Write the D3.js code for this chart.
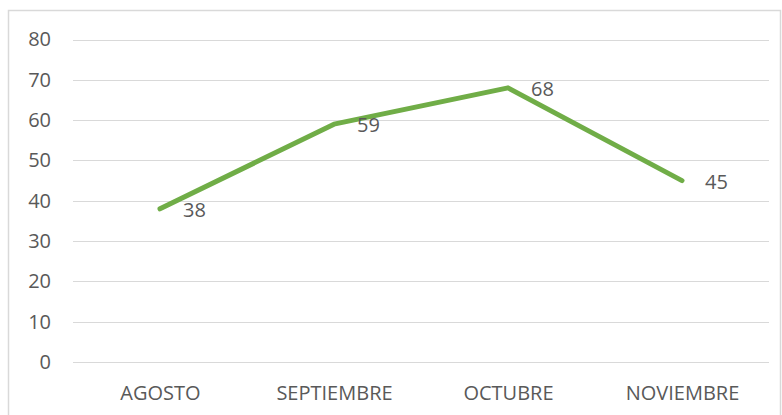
<!DOCTYPE html>
<html lang="es">
<head>
  <meta charset="utf-8">
  <title>Linea</title>
  <style>
    body { margin: 0; background: #fff; }
    text { font-family: "Open Sans", sans-serif; fill: #595959; }
  </style>
</head>
<body>
  <script src="https://cdn.jsdelivr.net/npm/d3@7"></script>
  <script>
    var meses = ["AGOSTO", "SEPTIEMBRE", "OCTUBRE", "NOVIEMBRE"];
    var valores = [38, 59, 68, 45];
    var ticks = [0, 10, 20, 30, 40, 50, 60, 70, 80];

    var width = 782, height = 415;
    var svg = d3.select("body").append("svg")
      .attr("width", width)
      .attr("height", height);

    // chart border
    svg.append("rect")
      .attr("x", 8.5).attr("y", 10.5)
      .attr("width", 772).attr("height", 420)
      .attr("fill", "none")
      .attr("stroke", "#d9d9d9")
      .attr("stroke-width", 1.5);

    var xScale = d3.scalePoint()
      .domain(meses)
      .range([73, 769])
      .padding(0.5);

    var yScale = d3.scaleLinear()
      .domain([0, 80])
      .range([362, 39.5]);

    // gridlines
    svg.selectAll("line.grid")
      .data(ticks)
      .enter()
      .append("line")
      .attr("class", "grid")
      .attr("x1", 73).attr("x2", 769)
      .attr("y1", function(d) { return Math.round(yScale(d)) + 0.5; })
      .attr("y2", function(d) { return Math.round(yScale(d)) + 0.5; })
      .attr("stroke", "#d9d9d9")
      .attr("stroke-width", 1.2);

    var yAxis = d3.axisLeft(yScale).tickValues(ticks).tickSize(0).tickPadding(0);
    svg.append("g")
      .attr("transform", "translate(51,0)")
      .call(yAxis)
      .call(function(g) { g.select(".domain").remove(); })
      .selectAll("text")
      .attr("font-size", 20)
      .attr("font-family", "Open Sans, sans-serif")
      .style("fill", "#595959");

    var xAxis = d3.axisBottom(xScale).tickSize(0).tickPadding(0);
    svg.append("g")
      .attr("transform", "translate(0,386)")
      .call(xAxis)
      .call(function(g) { g.select(".domain").remove(); })
      .selectAll("text")
      .attr("font-size", 20)
      .attr("font-family", "Open Sans, sans-serif")
      .style("fill", "#595959");

    var linea = d3.line()
      .x(function(d, i) { return xScale(meses[i]); })
      .y(function(d) { return yScale(d); });

    svg.append("path")
      .datum(valores)
      .attr("d", linea)
      .attr("fill", "none")
      .attr("stroke", "#70ad47")
      .attr("stroke-width", 5)
      .attr("stroke-linejoin", "round")
      .attr("stroke-linecap", "round");

    svg.selectAll("text.etiqueta")
      .data(valores)
      .enter()
      .append("text")
      .attr("class", "etiqueta")
      .attr("x", function(d, i) { return xScale(meses[i]) + 23; })
      .attr("y", function(d) { return yScale(d) + 8; })
      .attr("font-size", 20)
      .text(function(d) { return d; });
  </script>
</body>
</html>
